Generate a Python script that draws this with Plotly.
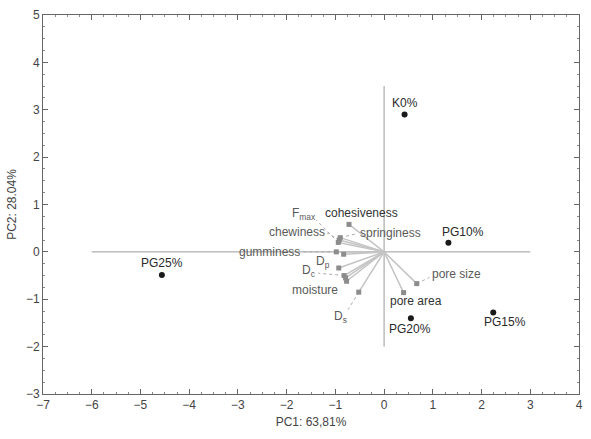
import plotly.graph_objects as go

# ---- data ----
samples = ["K0%", "PG10%", "PG20%", "PG15%", "PG25%"]
sample_pc1 = [0.42, 1.32, 0.55, 2.24, -4.56]
sample_pc2 = [2.90, 0.19, -1.40, -1.28, -0.49]
sample_label_x = [0.42, 1.62, 0.54, 2.48, -4.56]
sample_label_y = [3.15, 0.42, -1.62, -1.49, -0.24]

variables = ["cohesiveness", "springiness", "chewiness", "F<sub>max</sub>", "gumminess", "",
             "D<sub>p</sub>", "D<sub>c</sub>", "", "moisture", "D<sub>s</sub>", "pore size", "pore area"]
load_pc1 = [-0.72, -0.90, -0.92, -0.94, -0.98, -0.83, -0.93, -0.82, -0.79, -0.77, -0.52, 0.67, 0.40]
load_pc2 = [0.58, 0.30, 0.25, 0.20, 0.00, -0.05, -0.34, -0.50, -0.55, -0.62, -0.85, -0.67, -0.86]
var_label_x = [-0.47, 0.13, -1.79, -1.64, -2.35, None, -1.25, -1.55, None, -1.42, -0.90, 1.49, 0.65]
var_label_y = [0.82, 0.39, 0.42, 0.80, 0.00, None, -0.22, -0.41, None, -0.80, -1.37, -0.47, -1.04]
var_dark = [True, False, False, False, False, False, False, False, False, False, False, False, True]
# leader line end points (None = no leader)
leader_x = [None, -0.58, -1.17, -1.39, -1.68, None, None, -1.35, None, None, -0.74, 0.93, None]
leader_y = [None, 0.38, 0.40, 0.67, 0.00, None, None, -0.45, None, None, -1.22, -0.54, None]

axis_h_x = [-6, 3]
axis_v_y = [-2, 3.5]

x_title = "PC1: 63,81%"
y_title = "PC2: 28.04%"

FONT = "Liberation Sans, Arial, sans-serif"
fig = go.Figure()

# reference axes through origin
fig.add_trace(go.Scatter(x=axis_h_x, y=[0, 0], mode="lines",
                         line=dict(color="#9a9a9a", width=1), hoverinfo="skip"))
fig.add_trace(go.Scatter(x=[0, 0], y=axis_v_y, mode="lines",
                         line=dict(color="#9a9a9a", width=1), hoverinfo="skip"))

# loading vectors
vx, vy = [], []
for a, b in zip(load_pc1, load_pc2):
    vx += [0, a, None]
    vy += [0, b, None]
fig.add_trace(go.Scatter(x=vx, y=vy, mode="lines",
                         line=dict(color="#c4c4c4", width=1.5), hoverinfo="skip"))

# leader lines
lx, ly = [], []
for a, b, c, d in zip(load_pc1, load_pc2, leader_x, leader_y):
    if c is not None:
        lx += [a, c, None]
        ly += [b, d, None]
fig.add_trace(go.Scatter(x=lx, y=ly, mode="lines",
                         line=dict(color="#aaaaaa", width=1, dash="dot"), hoverinfo="skip"))

# loading squares
fig.add_trace(go.Scatter(x=load_pc1, y=load_pc2, mode="markers",
                         marker=dict(symbol="square", size=5, color="#8c8c8c"),
                         hoverinfo="skip"))

# sample points
fig.add_trace(go.Scatter(x=sample_pc1, y=sample_pc2, mode="markers",
                         marker=dict(symbol="circle", size=6, color="#1a1a1a"),
                         hoverinfo="skip"))

ann = []
for name, x, y, dk in zip(variables, var_label_x, var_label_y, var_dark):
    if name and x is not None:
        ann.append(dict(x=x, y=y, text=name, showarrow=False,
                        font=dict(family=FONT, size=12, color="#333333" if dk else "#5a5a5a"),
                        xanchor="center", yanchor="middle"))
for name, x, y in zip(samples, sample_label_x, sample_label_y):
    ann.append(dict(x=x, y=y, text=name, showarrow=False,
                    font=dict(family=FONT, size=12, color="#2a2a2a"),
                    xanchor="center", yanchor="middle"))

axis_common = dict(showgrid=False, zeroline=False, showline=True, linecolor="#666666",
                   linewidth=1, mirror="ticks", ticks="inside", ticklen=5, tickcolor="#666666",
                   tickfont=dict(family=FONT, size=12, color="#444444"),
                   minor=dict(ticks="inside", ticklen=2, tickcolor="#888888", dtick=0.25))

fig.update_layout(
    width=591, height=439,
    margin=dict(l=43, r=8, t=10, b=45),
    paper_bgcolor="white", plot_bgcolor="white",
    showlegend=False,
    annotations=ann,
    xaxis=dict(range=[-7, 4], dtick=1, tick0=-7,
               title=dict(text=x_title, font=dict(family=FONT, size=12, color="#444444"), standoff=6),
               **axis_common),
    yaxis=dict(range=[-3, 5], dtick=1, tick0=-3,
               title=dict(text=y_title, font=dict(family=FONT, size=12, color="#444444"), standoff=6),
               **axis_common),
)

fig.write_html("out.html")
